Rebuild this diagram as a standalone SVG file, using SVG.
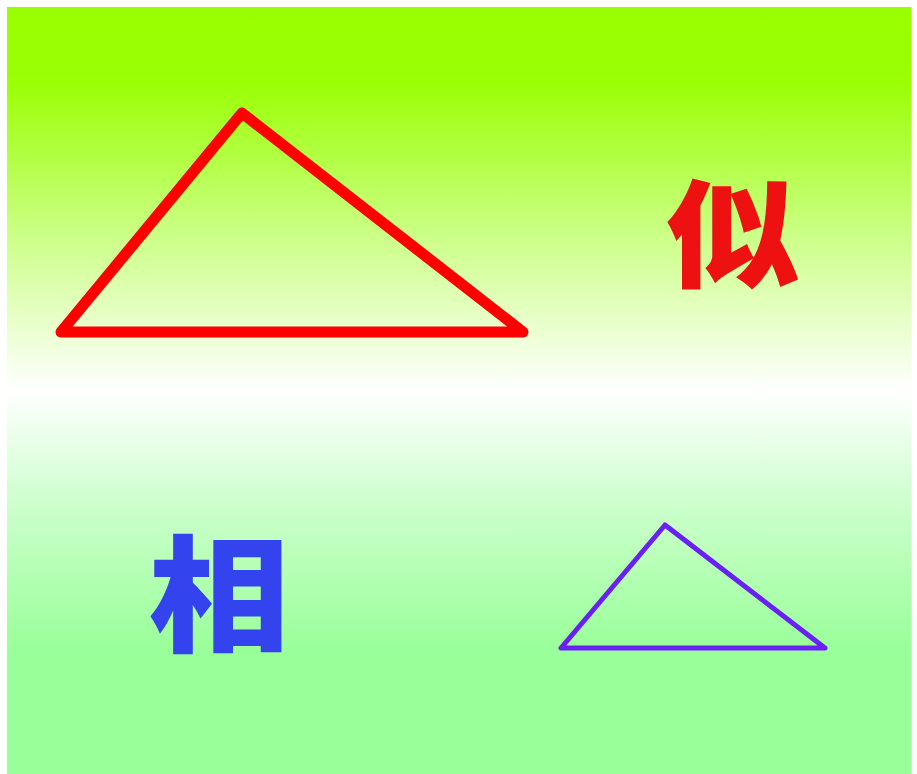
<svg xmlns="http://www.w3.org/2000/svg" width="917" height="774" viewBox="0 0 917 774">
<defs>
<linearGradient id="bg" x1="0" y1="7" x2="0" y2="774" gradientUnits="userSpaceOnUse">
<stop offset="0" stop-color="#99ff00"/>
<stop offset="0.1" stop-color="#9bff05"/>
<stop offset="0.3" stop-color="#ccff88"/>
<stop offset="0.5" stop-color="#ffffff"/>
<stop offset="0.65" stop-color="#ccffcc"/>
<stop offset="0.84" stop-color="#99ff99"/>
<stop offset="1" stop-color="#99ff99"/>
</linearGradient>
<style>
.tri{fill:none;stroke-linejoin:round;stroke-linecap:round}
.zh{font-family:"Noto Sans CJK SC","Noto Sans CJK JP",sans-serif;font-weight:900;text-anchor:middle}
</style>
</defs>
<rect x="0" y="0" width="917" height="774" fill="#ffffff"/>
<rect x="7" y="7" width="904" height="767" fill="url(#bg)"/>
<g id="big-triangle">
<polygon class="tri" points="242,113 61,332 523,332" stroke="#ff0000" stroke-width="11"/>
</g>
<g id="small-triangle">
<polygon class="tri" points="665,525 561,648 825,648" stroke="#6a1ff5" stroke-width="5"/>
</g>
<g id="char-si">
<text class="zh" x="733" y="278" font-size="116" fill="#ee1111" transform="translate(733 0) scale(1.15 1) translate(-733 0)">似</text>
</g>
<g id="char-xiang">
<text class="zh" x="219" y="642" font-size="126" fill="#3344ee" transform="translate(219 0) scale(1.12 1) translate(-219 0)">相</text>
</g>
</svg>
